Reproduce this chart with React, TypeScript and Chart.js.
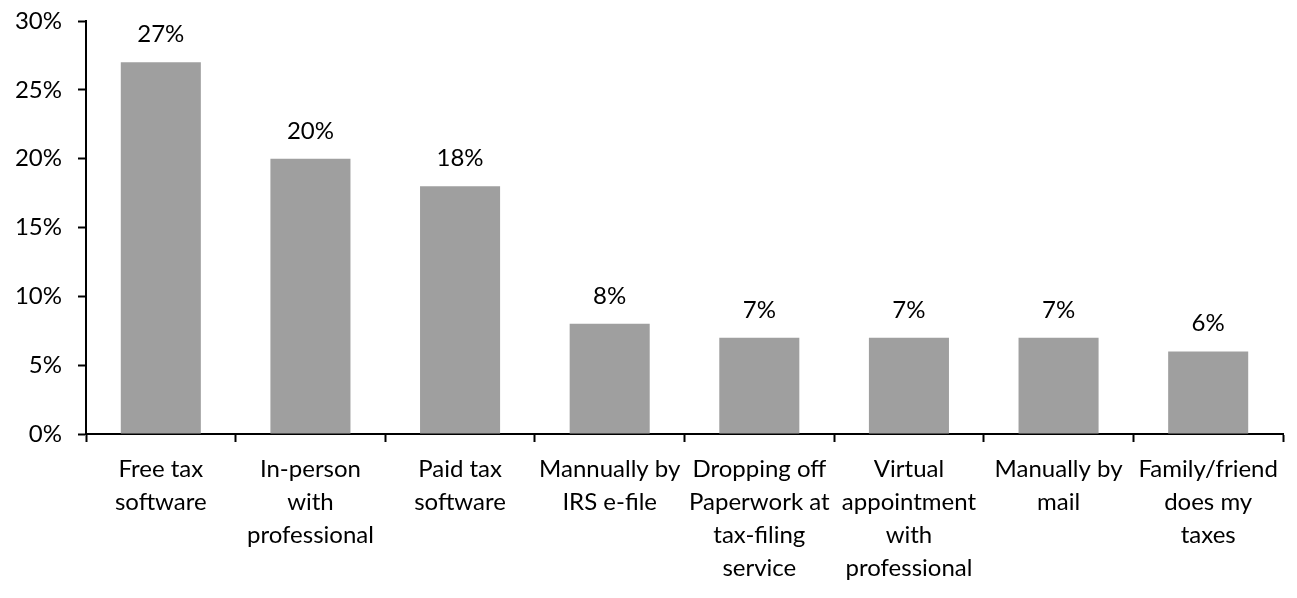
import React, { useEffect, useRef } from "react";
import { Chart, registerables } from "chart.js";

Chart.register(...registerables);

const categories: string[][] = [
  ["Free tax", "software"],
  ["In-person", "with", "professional"],
  ["Paid tax", "software"],
  ["Mannually by", "IRS e-file"],
  ["Dropping off", "Paperwork at", "tax-filing", "service"],
  ["Virtual", "appointment", "with", "professional"],
  ["Manually by", "mail"],
  ["Family/friend", "does my", "taxes"],
];
const values: number[] = [27, 20, 18, 8, 7, 7, 7, 6];
const yTicks: number[] = [0, 5, 10, 15, 20, 25, 30];

const FONT = "Lato, 'Open Sans', sans-serif";
const FS = 24;

export default function App() {
  const ref = useRef<HTMLCanvasElement | null>(null);
  useEffect(() => {
    if (!ref.current) return;
    const labelPlugin = {
      id: "barLabels",
      afterDatasetsDraw(chart: any) {
        const ctx = chart.ctx;
        const meta = chart.getDatasetMeta(0);
        ctx.save();
        ctx.fillStyle = "#000";
        ctx.font = `${FS}px ${FONT}`;
        ctx.textAlign = "center";
        ctx.textBaseline = "alphabetic";
        meta.data.forEach((bar: any, i: number) => {
          ctx.fillText(values[i] + "%", bar.x, bar.y - 20);
        });
        ctx.restore();
      },
    };
    const chart = new Chart(ref.current, {
      type: "bar",
      data: {
        labels: categories,
        datasets: [
          {
            data: values,
            backgroundColor: "#9f9f9f",
            barPercentage: 0.535,
            categoryPercentage: 1,
          },
        ],
      },
      options: {
        animation: false,
        responsive: false,
        layout: { padding: { top: 21, right: 14, left: 0, bottom: 0 } },
        plugins: { legend: { display: false }, tooltip: { enabled: false } },
        scales: {
          x: {
            offset: true,
            grid: {
              offset: true,
              drawOnChartArea: false,
              drawTicks: true,
              tickLength: 8,
              tickWidth: 2,
              color: "#000",
            },
            border: { color: "#000", width: 2 },
            ticks: {
              color: "#000",
              font: { family: FONT, size: FS, lineHeight: 1.375 },
              maxRotation: 0,
              minRotation: 0,
              autoSkip: false,
              padding: 11,
            },
            afterFit(scale: any) {
              scale.height = 598 - 434;
            },
          },
          y: {
            min: 0,
            max: 30,
            afterBuildTicks(scale: any) {
              scale.ticks = yTicks.map((v) => ({ value: v }));
            },
            grid: {
              drawOnChartArea: false,
              drawTicks: true,
              tickLength: 8,
              tickWidth: 2,
              color: "#000",
            },
            border: { color: "#000", width: 2 },
            ticks: {
              color: "#000",
              font: { family: FONT, size: FS, lineHeight: 0.4 },
              padding: 16,
              callback: (v: any) => v + "%",
            },
            afterFit(scale: any) {
              scale.width = 86;
            },
          },
        },
      },
      plugins: [labelPlugin],
    });
    return () => chart.destroy();
  }, []);
  return (
    <div style={{ position: "fixed", left: 0, top: 0, width: 1297, height: 598, background: "#fff" }}>
      <canvas ref={ref} width={1297} height={598} style={{ width: 1297, height: 598 }} />
    </div>
  );
}
